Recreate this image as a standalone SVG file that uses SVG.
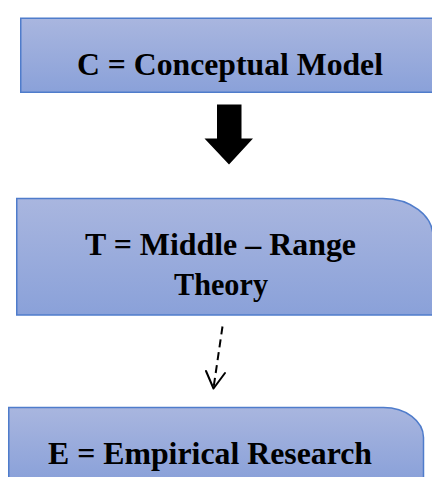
<svg xmlns="http://www.w3.org/2000/svg" width="432" height="477" viewBox="0 0 432 477">
  <style>
    .box { fill: url(#boxFill); stroke: #4f7ccb; stroke-width: 1.5; }
    .label { font-family: "Liberation Serif", "Times New Roman", serif; font-weight: bold; font-size: 32px; fill: #000; text-anchor: middle; }
    .dash { fill: none; stroke: #000; stroke-width: 2; stroke-dasharray: 8 5; }
    .head { fill: none; stroke: #000; stroke-width: 2; stroke-linecap: round; stroke-linejoin: round; }
  </style>
  <defs>
    <linearGradient id="boxFill" x1="0" y1="0" x2="0" y2="1">
      <stop offset="0" stop-color="#a9b6df"/>
      <stop offset="1" stop-color="#8aa1d9"/>
    </linearGradient>
  </defs>
  <rect width="432" height="477" fill="#fff"/>

  <g id="node-c">
    <rect class="box" x="20.75" y="18.25" width="420" height="74"/>
    <text class="label" x="230" y="75" textLength="306" lengthAdjust="spacingAndGlyphs">C = Conceptual Model</text>
  </g>

  <g id="node-t">
    <path class="box" d="M16.75 315 V198.5 H383 A50 38 0 0 1 433 236.5 V315 Z"/>
    <text class="label" x="220.5" y="254.5" textLength="271" lengthAdjust="spacingAndGlyphs">T = Middle – Range</text>
    <text class="label" x="221" y="294.5" textLength="94" lengthAdjust="spacingAndGlyphs">Theory</text>
  </g>

  <g id="node-e">
    <path class="box" d="M8.75 480 V407.5 H383.5 A40 30 0 0 1 423.5 437.5 V480"/>
    <text class="label" x="210" y="463.5" textLength="324" lengthAdjust="spacingAndGlyphs">E = Empirical Research</text>
  </g>

  <g id="connectors">
    <!-- block arrow C -> T -->
    <path d="M217 104.5 H241.5 V138.5 H253 L229 164.5 L204.5 138.5 H217 Z" fill="#000"/>
    <!-- dashed arrow T -> E -->
    <path class="dash" d="M222.5 326.5 L213.5 388"/>
    <path class="head" d="M206 371 L213.5 388.5 L225 373"/>
  </g>
</svg>
